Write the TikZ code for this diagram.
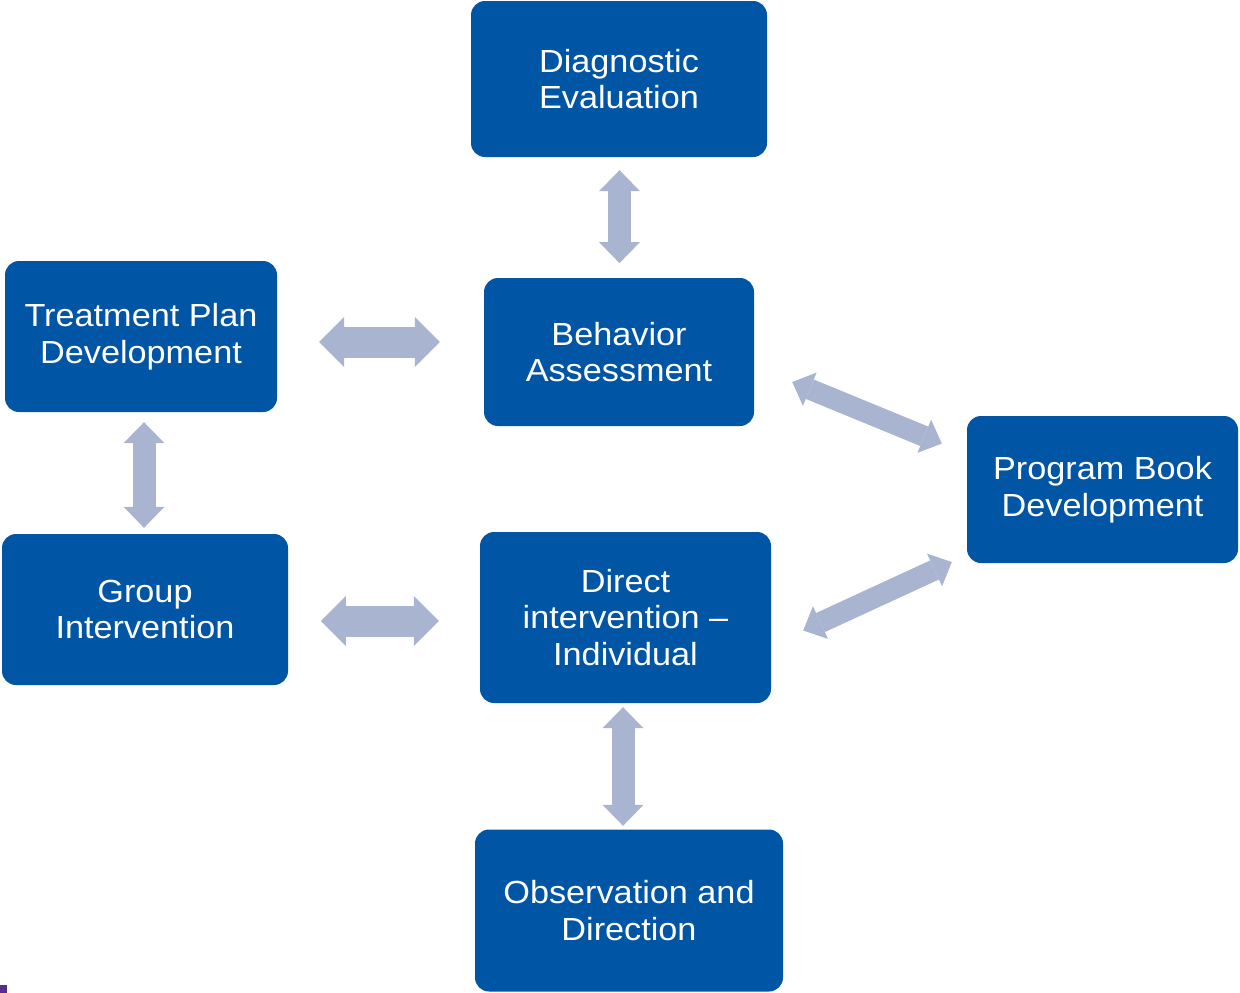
\documentclass[tikz,border=0pt]{standalone}
\usepackage{fontspec}
\setmainfont{Liberation Sans}[FakeStretch=1.07]
\usetikzlibrary{arrows.meta,calc}
\definecolor{boxblue}{RGB}{0,85,165}
\definecolor{arrowcol}{RGB}{169,180,209}
\definecolor{markpurple}{RGB}{88,44,140}
\tikzset{
  box/.style={draw=none, fill=boxblue, rounded corners=14pt, text=white, align=center,
    inner sep=0pt, font=\fontsize{32}{36.5}\selectfont},
  bigarrow/.style={draw=arrowcol, line width=31pt,
    {Triangle[width=50pt,length=25pt,line width=0pt]}-{Triangle[width=50pt,length=25pt,line width=0pt]}},
  midarrow/.style={draw=arrowcol, line width=23pt,
    {Triangle[width=41pt,length=21pt,line width=0pt]}-{Triangle[width=41pt,length=21pt,line width=0pt]}},
  smallarrow/.style={draw=arrowcol, line width=21pt,
    {Triangle[width=36pt,length=19pt,line width=0pt]}-{Triangle[width=36pt,length=19pt,line width=0pt]}},
}
\begin{document}
\begin{tikzpicture}[x=1pt,y=-1pt]
\useasboundingbox (0,0) rectangle (1240,993);
\node[box, minimum width=296pt, minimum height=156pt] (de) at (619,79) {Diagnostic\\Evaluation};
\node[box, minimum width=270pt, minimum height=148pt] (ba) at (619,352) {Behavior\\Assessment};
\node[box, minimum width=272pt, minimum height=151pt] (tp) at (141,336.5) {Treatment Plan\\Development};
\node[box, minimum width=286pt, minimum height=151pt] (gi) at (145,609.5) {Group\\Intervention};
\node[box, minimum width=291pt, minimum height=171pt] (di) at (625.5,617.5) {Direct\\intervention –\\Individual};
\node[box, minimum width=271pt, minimum height=147pt] (pb) at (1102.5,489.5) {Program Book\\Development};
\node[box, minimum width=308pt, minimum height=162pt] (od) at (629,910.5) {Observation and\\Direction};
% connectors
\draw[midarrow] ($(de.south)+(0.5,13)$) -- ($(ba.north)+(0.5,-14.7)$);
\draw[bigarrow] ($(tp.east)+(42,5.5)$) -- ($(ba.west)+(-44,-10)$);
\draw[midarrow] ($(tp.south)+(3,10)$) -- ($(gi.north)+(-1,-6)$);
\draw[bigarrow] ($(gi.east)+(32.7,11.5)$) -- ($(di.west)+(-41,3.5)$);
\draw[midarrow] ($(di.south)+(-2.5,4)$) -- ($(od.north)+(-6,-3.5)$);
\draw[smallarrow] ($(ba.east)+(38,30)$) -- ($(pb.west)+(-25,-46)$);
\draw[smallarrow] ($(di.east)+(32,13)$) -- ($(pb.west)+(-15,72.5)$);
% small mark at bottom left
\fill[markpurple] (0,985) rectangle (7,993);
\end{tikzpicture}
\end{document}
